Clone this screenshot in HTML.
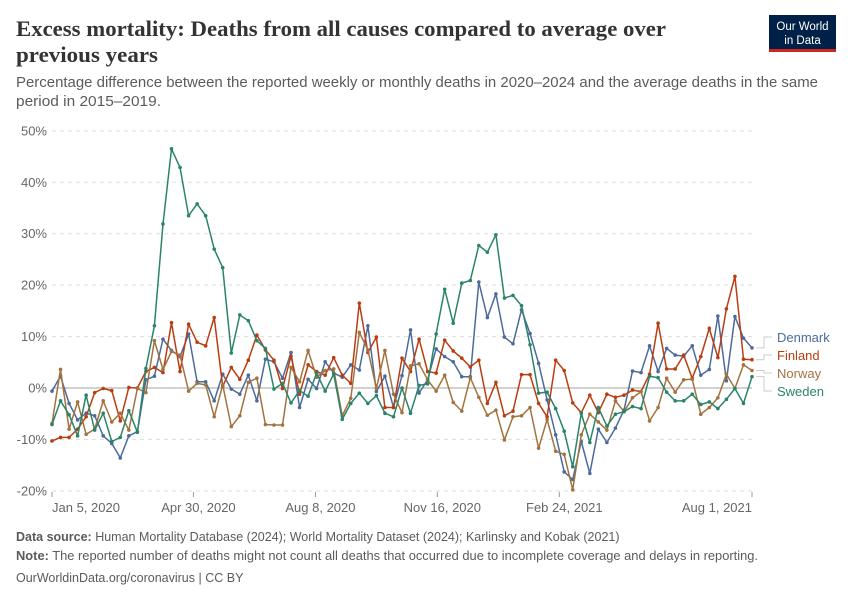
<!DOCTYPE html>
<html><head><meta charset="utf-8"><style>
body{margin:0;background:#fff;}
svg{display:block;font-family:"Liberation Sans",sans-serif;}
</style></head><body>
<svg id="chart" width="850" height="600" viewBox="0 0 850 600" xmlns="http://www.w3.org/2000/svg">
<text x="16" y="36" font-family="Liberation Serif, serif" font-weight="bold" font-size="22" fill="#333" textLength="650" lengthAdjust="spacingAndGlyphs">Excess mortality: Deaths from all causes compared to average over</text>
<text x="16" y="62" font-family="Liberation Serif, serif" font-weight="bold" font-size="22" fill="#333" textLength="142" lengthAdjust="spacingAndGlyphs">previous years</text>
<text x="16" y="87" font-size="14.5" fill="#5b5b5b" textLength="802" lengthAdjust="spacingAndGlyphs">Percentage difference between the reported weekly or monthly deaths in 2020–2024 and the average deaths in the same</text>
<text x="16" y="106" font-size="14.5" fill="#5b5b5b" textLength="145" lengthAdjust="spacingAndGlyphs">period in 2015–2019.</text>
<g>
<rect x="769" y="15" width="67" height="37" fill="#002147"/>
<rect x="769" y="49" width="67" height="3" fill="#ce261e"/>
<text x="802.5" y="30" font-size="11.5" fill="#fff" text-anchor="middle">Our World</text>
<text x="802.5" y="44" font-size="11.5" fill="#fff" text-anchor="middle">in Data</text>
</g>
<g id="grid"></g>
<g id="series"></g>
<g id="legend"></g>
<text x="16" y="541" font-size="12.5" fill="#5b5b5b"><tspan font-weight="bold">Data source:</tspan> Human Mortality Database (2024); World Mortality Dataset (2024); Karlinsky and Kobak (2021)</text>
<text x="16" y="560" font-size="12.5" fill="#5b5b5b" textLength="742" lengthAdjust="spacingAndGlyphs"><tspan font-weight="bold">Note:</tspan> The reported number of deaths might not count all deaths that occurred due to incomplete coverage and delays in reporting.</text>
<text x="16" y="582" font-size="12.5" fill="#5b5b5b">OurWorldinData.org/coronavirus | CC BY</text>
</svg>
<script>
const yTicks=[-20,-10,0,10,20,30,40,50];
const xTickLabels=["Jan 5, 2020","Apr 30, 2020","Aug 8, 2020","Nov 16, 2020","Feb 24, 2021","Aug 1, 2021"];
const xTickWeeks=[0,16.57,30.86,45.14,59.43,82];
const seriesNames=["Denmark","Finland","Norway","Sweden"];
const denmark=[-0.6,2.3,-3,-6.2,-4.9,-5.4,-9.3,-10.8,-13.6,-9.3,-8.5,1.6,2.3,9.5,7.3,6.1,10.5,1.2,1.2,-2.5,2.7,-0.2,-1.2,2.5,-2.5,5.6,5.1,1.9,6.9,-3.8,1.7,-0.1,5.1,2.9,2.1,4.5,3.5,12.1,-0.7,2.3,-3.8,2.4,11.3,-1,1.6,7.6,6.1,5.1,2.2,2.2,20.6,13.7,18.3,9.9,8.6,15.2,10.6,4.8,-2.3,-9.1,-16.3,-17.8,-10.4,-16.6,-8,-10.6,-7.8,-4.3,3.3,3,8.2,3.2,7.7,6.4,6.2,8.2,2.5,3.6,14,1.4,13.9,9.7,7.8];
const finland=[-10.3,-9.6,-9.6,-8,-5.6,-0.9,-0.1,-0.5,-6.4,0.1,0,3.2,4,3,12.7,3.2,12.4,8.9,8.2,13.7,0.3,4,1.7,5.4,10.3,7.4,5.4,-0.1,6.2,-1.2,4.5,3.2,2.5,5.9,2.5,0.9,16.5,6.9,9.9,-3.8,-3.8,5.8,3.2,9.5,3.2,2.9,9.3,7.2,5.8,4.1,5.4,-3,1.1,-5.4,-4.5,2.6,2.6,-3,-5.6,5.4,3.4,-2.9,-4.8,-1.4,-4.8,-1.2,-1.8,-1.4,-0.4,-0.7,2.7,12.6,3.7,3.7,6.4,1.9,6.1,11.6,5.9,15.4,21.7,5.6,5.5];
const norway=[-6.9,3.6,-8,-2.7,-9,-8,-2.5,-6.6,-4.9,-8.2,-0.1,-0.9,9.2,3.6,7.1,6.4,-0.6,0.9,0.6,-5.6,0.6,-7.5,-5.4,1.1,1.9,-7.1,-7.2,-7.2,4,1.2,7.3,2.1,3.4,3.7,-5.4,-2,10.8,7.4,-0.1,7.3,-1.2,-4.8,4.3,4.7,1.6,-0.6,2.5,-2.8,-4.5,2,-1.8,-5.3,-4.3,-10.1,-5.6,-5.4,-3.8,-11.7,-6.1,-12.3,-12.9,-19.8,-9.1,-5.1,-6.6,-8.2,-2.5,-4.6,-1.9,-0.7,-6.4,-3.8,1.9,-0.8,1.6,1.7,-5.1,-3.8,-1.9,2.7,-0.1,4.5,3.4];
const sweden=[-7.1,-2.5,-5.2,-9.3,-1.4,-8.2,-4.9,-10.4,-9.6,-4.4,-8.6,3.8,12.1,31.9,46.5,42.9,33.5,35.8,33.5,27,23.4,6.8,14.2,13.1,9.2,7.7,-0.2,0.9,-2.9,-0.5,-1.6,2.9,-0.6,2.7,-6.1,-3,-1,-3,-1.5,-4.9,-5.6,0,-4.9,0.5,0.8,10.5,19.2,12.6,20.4,20.9,27.7,26.4,29.8,17.5,18,16,8.4,-1,-0.8,-4,-8.4,-15.3,-4.9,-10.6,-3.8,-7.4,-5.1,-4.6,-3.6,-4,2.3,2,-0.8,-2.5,-2.5,-1.2,-3.2,-2.7,-4,-2.2,-0.1,-3,2.2];

const NS="http://www.w3.org/2000/svg";
const X0=52,X1=752,NW=82,Y0=388,PPU=5.143;
function xs(i){return X0+(X1-X0)*i/NW;}
function ys(v){return Y0-v*PPU;}
function mk(tag,attrs,parent){const e=document.createElementNS(NS,tag);for(const k in attrs)e.setAttribute(k,attrs[k]);parent.appendChild(e);return e;}
const grid=document.getElementById('grid');
yTicks.forEach(t=>{
  const l=mk('line',{x1:X0,x2:X1,y1:ys(t),y2:ys(t),stroke:t===0?'#a3a3a3':'#dddddd','stroke-width':1,'stroke-dasharray':t===0?'none':'4,4'},grid);
  
  
  const tx=mk('text',{x:47,y:ys(t)+4.5,'text-anchor':'end','font-size':13,fill:'#666'},grid);
  tx.textContent=t+'%';
  
  
});
xTickLabels.forEach((lab,k)=>{
  const x=xs(xTickWeeks[k]);
  const tk=mk('line',{x1:x,x2:x,y1:492,y2:497,stroke:'#999'},grid);
  
  
  const anchor=k===0?'start':(k===xTickLabels.length-1?'end':'middle');
  const tx=mk('text',{x:k===0?x:(anchor==='end'?x:x+5),y:512,'text-anchor':anchor,'font-size':13,fill:'#666'},grid);
  tx.textContent=lab;
  
  
});
const colors=["#4c6a9c","#b93d10","#a2733e","#2a846a"];
const data=[denmark,finland,norway,sweden];
const sg=document.getElementById('series');
data.forEach((arr,s)=>{
  const g=mk('g',{},sg);
  
  
  const pts=arr.map((v,i)=>xs(i).toFixed(1)+','+ys(v).toFixed(1)).join(' ');
  const pl=mk('polyline',{points:pts,fill:'none',stroke:colors[s],'stroke-width':1.5,'stroke-linejoin':'round'},g);
  
  
  arr.forEach((v,i)=>{
    const c=mk('circle',{cx:xs(i),cy:ys(v),r:1.8,fill:colors[s]},g);
    
    
  });
});
const lg=document.getElementById('legend');
const labelY=[342,360,378,396];
data.forEach((arr,s)=>{
  const ye=ys(arr[arr.length-1]);
  const ly=labelY[s]-5;
  const p=mk('path',{d:`M756 ${ye} H764 V${ly} H772`,fill:'none',stroke:'#ccc','stroke-width':1},lg);
  
  
  const t=mk('text',{x:777,y:labelY[s],'font-size':13,fill:colors[s]},lg);
  t.textContent=seriesNames[s];
  
  
});
</script>
</body></html>
